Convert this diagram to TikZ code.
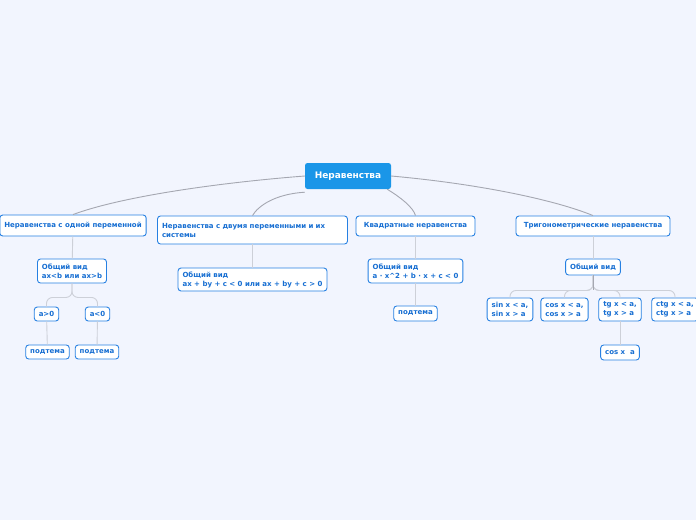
\documentclass[tikz,border=0pt]{standalone}
\usepackage{fontspec}
\setmainfont{DejaVu Sans}
\usepackage{xcolor}
\usepackage{tikz}
\definecolor{pagebg}{RGB}{242, 245, 254}
\definecolor{rootblue}{RGB}{26, 150, 232}
\definecolor{edgeblue}{RGB}{38, 128, 226}
\definecolor{textblue}{RGB}{22, 110, 210}
\definecolor{linkgray}{RGB}{165, 167, 177}
\definecolor{twiggray}{RGB}{205, 208, 216}

\begin{document}
\begin{tikzpicture}[
        x=1pt, y=-1pt,
        root/.style={rectangle, rounded corners=2.5pt, fill=rootblue, text=white, minimum width=86pt, minimum height=26pt, font=\fontsize{9}{11}\selectfont\bfseries},
        topic/.style={rectangle, rounded corners=3pt, draw=edgeblue, fill=white, line width=0.9pt, inner xsep=4.5pt, inner ysep=2pt, align=left, text=textblue, font=\fontsize{7}{9}\selectfont\bfseries},
        link/.style={line width=0.9pt, color=linkgray},
        twig/.style={line width=0.9pt, color=twiggray, rounded corners=6pt}
    ]
        \fill[pagebg] (0,0) rectangle (696,520);
        \useasboundingbox (0,0) rectangle (696,520);

        % Root
        \node[root] (root) at (348,176) {Неравенства};

        % Main topics
        \node[topic, minimum height=21pt] (one) at (73,225.5) {Неравенства с одной переменной};
        \node[topic, minimum height=28pt, text width=181pt] (two) at (252.5,230) {Неравенства с двумя переменными и их\\системы};
        \node[topic, minimum height=20pt, minimum width=119pt] (quad) at (415.5,226) {Квадратные неравенства};
        \node[topic, minimum height=20pt, minimum width=154pt] (trig) at (593,226) {Тригонометрические неравенства};

        % One variable
        \node[topic, minimum height=24pt] (gen1) at (72,271) {Общий вид\\ax<b или ax>b};
        \node[topic, minimum height=14pt] (apos) at (46.5,314) {a>0};
        \node[topic, minimum height=14pt] (aneg) at (97.5,314) {a<0};
        \node[topic, minimum height=14pt] (sub1) at (47.5,352) {подтема};
        \node[topic, minimum height=14pt] (sub2) at (97,352) {подтема};

        % Two variables
        \node[topic, minimum height=23pt] (gen2) at (252.5,279.5) {Общий вид\\ax + by + c < 0 или ax + by + c > 0};

        % Quadratic
        \node[topic, minimum height=24pt] (gen3) at (415.5,271) {Общий вид\\a · x\textasciicircum 2 + b · x + c < 0};
        \node[topic, minimum height=15pt] (sub3) at (415.5,313.5) {подтема};

        % Trigonometric
        \node[topic, minimum height=16pt] (gen4) at (593,267) {Общий вид};
        \node[topic, minimum height=23pt] (sin) at (510,309.5) {sin x < a,\\sin x > a};
        \node[topic, minimum height=23pt] (cos) at (564.5,309.5) {cos x < a,\\cos x > a};
        \node[topic, minimum height=23pt] (tg) at (620,309.5) {tg x < a,\\tg x > a};
        \node[topic, minimum height=23pt] (ctg) at (675,309.5) {ctg x < a,\\ctg x > a};
        \node[topic, minimum height=15pt] (cosa) at (620,352.5) {cos x~~a};

        % Connections
        \draw[link] (root.west) .. controls (215,183) and (120,197) .. (one.north);
        \draw[link] ([yshift=-3pt]root.south west) .. controls (275,194) and (258,206) .. (two.north);
        \draw[link] ([xshift=-4pt]root.south east) .. controls (400,197) and (413,207) .. (quad.north);
        \draw[link] (root.east) .. controls (480,184) and (555,200) .. (trig.north);

        \draw[twig] (one) -- (gen1);
        \draw[twig] (gen1.south) -- ++(0,14) -| (apos.north);
        \draw[twig] (gen1.south) -- ++(0,14) -| (aneg.north);
        \draw[twig] (apos) -- (sub1);
        \draw[twig] (aneg) -- (sub2);
        \draw[twig] (two) -- (gen2);
        \draw[twig] (quad) -- (gen3);
        \draw[twig] (gen3) -- (sub3);
        \draw[twig] (trig) -- (gen4);
        \foreach \leaf in {sin, cos, tg, ctg}
            \draw[twig] (gen4.south) -- ++(0,15) -| (\leaf.north);
        \draw[line width=0.9pt, color=linkgray] (gen4.south) -- ++(0,15);
        \draw[twig] (tg) -- (cosa);
    \end{tikzpicture}
\end{document}
